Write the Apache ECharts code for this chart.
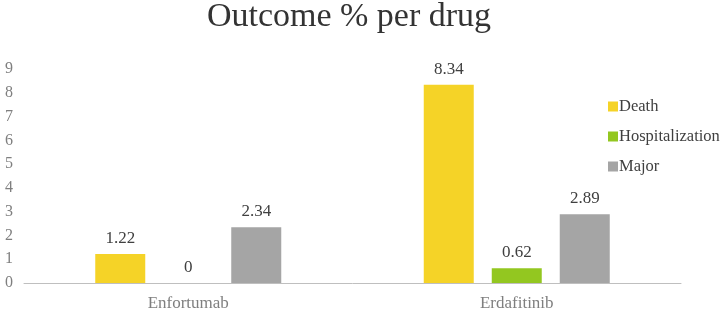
<!DOCTYPE html>
<html>
<head>
<meta charset="utf-8">
<script src="https://cdn.jsdelivr.net/npm/echarts@6/dist/echarts.min.js"></script>
<style>
  html, body { margin: 0; padding: 0; background: #fff; }
  #chart { width: 726px; height: 312px; }
</style>
</head>
<body>
<div id="chart"></div>
<script>
const drugs = ["Enfortumab", "Erdafitinib"];
const death = [1.22, 8.34];
const hospitalization = [0, 0.62];
const major = [2.34, 2.89];
const yTicks = [0, 1, 2, 3, 4, 5, 6, 7, 8, 9];

const serif = "Liberation Serif";
const chart = echarts.init(document.getElementById("chart"));

const makeSeries = (name, data, color) => ({
  name: name,
  type: "bar",
  data: data,
  barWidth: 50,
  barGap: "36%",
  itemStyle: { color: color },
  label: {
    show: true,
    position: "top",
    distance: 7,
    fontFamily: serif,
    fontSize: 17,
    color: "#404040",
  },
});

chart.setOption({
  animation: false,
  title: {
    text: "Outcome % per drug",
    left: 349,
    textAlign: "center",
    top: 0,
    padding: 0,
    textStyle: {
      fontFamily: serif,
      fontSize: 34,
      fontWeight: "normal",
      color: "#333333",
    },
  },
  legend: {
    orient: "vertical",
    left: 608,
    top: 98,
    padding: 0,
    itemWidth: 10,
    itemHeight: 10,
    itemGap: 13,
    icon: "rect",
    data: ["Death", "Hospitalization", "Major"],
    textStyle: {
      fontFamily: serif,
      fontSize: 16.5,
      color: "#404040",
      padding: [0, 0, 0, -4],
    },
  },
  grid: {
    left: 24,
    right: 45,
    top: 69,
    bottom: 27,
    containLabel: false,
  },
  xAxis: {
    type: "category",
    data: drugs,
    axisLine: { lineStyle: { color: "#bfbfbf", width: 1 } },
    axisTick: { show: false },
    axisLabel: {
      fontFamily: serif,
      fontSize: 17,
      color: "#7f7f7f",
      margin: 12,
    },
  },
  yAxis: {
    type: "value",
    min: yTicks[0],
    max: yTicks[yTicks.length - 1],
    interval: 1,
    splitLine: { show: false },
    axisLine: { show: false },
    axisTick: { show: false },
    axisLabel: {
      fontFamily: serif,
      fontSize: 16,
      color: "#7f7f7f",
      margin: 11,
    },
  },
  series: [
    makeSeries("Death", death, "#f5d327"),
    makeSeries("Hospitalization", hospitalization, "#93c720"),
    makeSeries("Major", major, "#a5a5a5"),
  ],
});
</script>
</body>
</html>
